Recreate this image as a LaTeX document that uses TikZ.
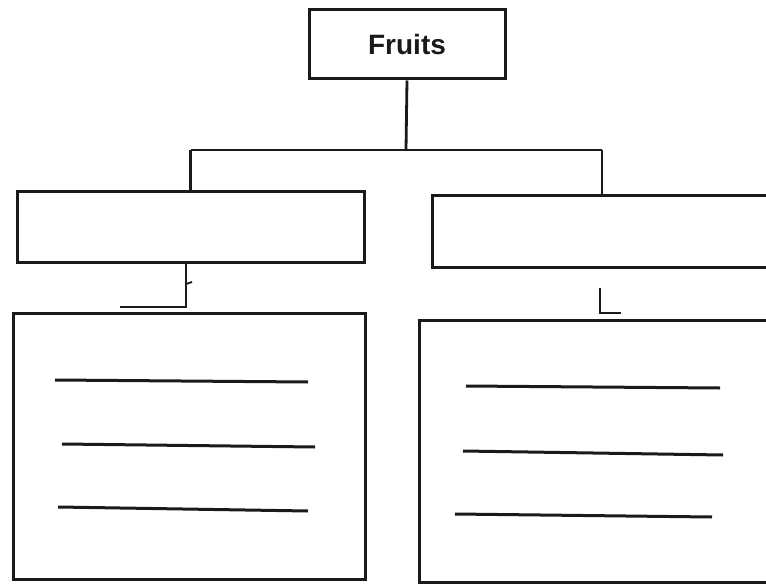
\documentclass[tikz,border=0pt]{standalone}
\usepackage{fontspec}
\setmainfont{Liberation Sans}
\definecolor{ink}{HTML}{1A1A1A}
\begin{document}
\begin{tikzpicture}[x=1pt,y=-1pt,
  box/.style={draw=ink, line width=3pt, inner sep=0pt},
  ln/.style={draw=ink, line width=2.8pt},
  wl/.style={draw=ink, line width=3pt}]
\useasboundingbox (0,0) rectangle (766,586);
\fill[white] (0,0) rectangle (766,586);
\clip (0,0) rectangle (766,586);
% boxes
\node[box, minimum width=196pt, minimum height=69pt,
      font=\bfseries\fontsize{28}{32}\selectfont, text=ink] (top) at (407,44.5) {Fruits};
\node[box, minimum width=347pt, minimum height=71pt] (lm) at (190.5,226.5) {};
\node[box, minimum width=340pt, minimum height=72pt] (rm) at (602,231) {};
\node[box, minimum width=352pt, minimum height=266pt] (lb) at (189,446) {};
\node[box, minimum width=353pt, minimum height=262pt] (rb) at (595.5,451) {};
% top connectors
\coordinate (bar) at (406,150);
\draw[ln] (top.south) -- (bar);
\draw[ln] (lm.north |- bar) -- (rm.north |- bar);
\draw[ln] (lm.north |- bar) -- (lm.north);
\draw[ln] (rm.north |- bar) -- (rm.north);
% lower connectors
\coordinate (lc) at (186,307);
\coordinate (le) at (120,307);
\draw[ln] (lm.south -| lc) -- (lc) -- (le);
\coordinate (lt1) at (186,284);
\coordinate (lt2) at (192,282);
\draw[ln, line width=1.8pt] (lt1) -- (lt2);
\coordinate (rc1) at (600,288);
\coordinate (rc2) at (600,313);
\coordinate (rc3) at (621,313);
\draw[ln] (rc1) -- (rc2) -- (rc3);
% writing lines, left box
\coordinate (a1) at (55,380);  \coordinate (a2) at (308,382);
\coordinate (b1) at (62,444);  \coordinate (b2) at (315,447);
\coordinate (c1) at (58,507);  \coordinate (c2) at (308,511);
\draw[wl] (a1) -- (a2);
\draw[wl] (b1) -- (b2);
\draw[wl] (c1) -- (c2);
% writing lines, right box
\coordinate (d1) at (466,386); \coordinate (d2) at (720,388);
\coordinate (e1) at (463,451); \coordinate (e2) at (723,455);
\coordinate (f1) at (455,514); \coordinate (f2) at (712,517);
\draw[wl] (d1) -- (d2);
\draw[wl] (e1) -- (e2);
\draw[wl] (f1) -- (f2);
\end{tikzpicture}
\end{document}
